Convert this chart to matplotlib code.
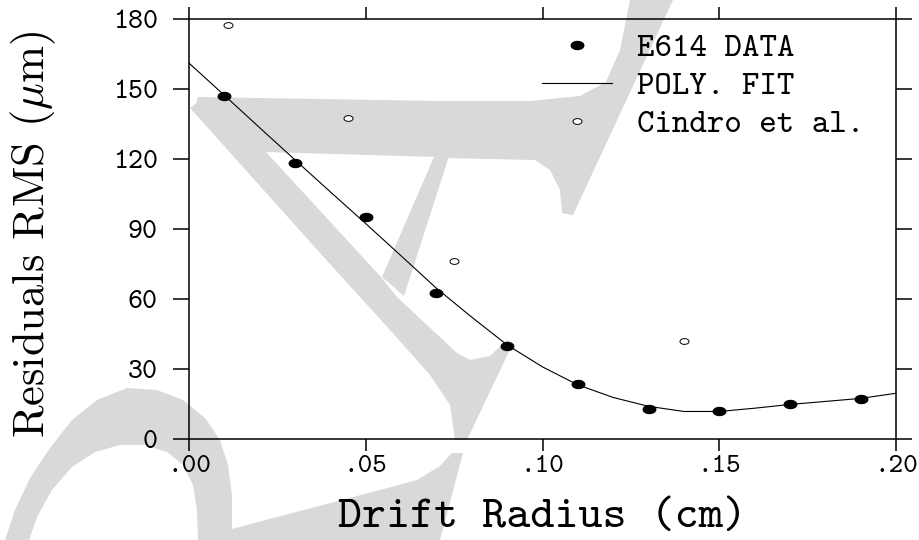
import numpy as np
import matplotlib
matplotlib.use("Agg")
import matplotlib.pyplot as plt
from matplotlib.path import Path
from matplotlib.patches import Polygon
from matplotlib.lines import Line2D

# E614 residuals vs drift radius
e614_radius = [0.01, 0.03, 0.05, 0.07, 0.09, 0.11, 0.13, 0.15, 0.17, 0.19]
e614_rms = [147.0, 118.1, 95.3, 62.4, 40.0, 23.4, 12.9, 12.0, 14.9, 17.1]

# Cindro et al. points
cindro_radius = [0.011, 0.045, 0.075, 0.140]
cindro_rms = [177.4, 137.4, 76.3, 42.1]

# polynomial fit curve, sampled every 0.01 cm
fit_radius = [0.00, 0.01, 0.02, 0.03, 0.04, 0.05, 0.06, 0.07, 0.08, 0.09, 0.10,
              0.11, 0.12, 0.13, 0.14, 0.15, 0.16, 0.17, 0.18, 0.19, 0.20]
fit_rms = [161.1, 147.3, 133.4, 119.6, 105.9, 92.3, 78.5, 64.6, 52.2, 40.3, 30.9,
           23.2, 17.8, 14.0, 11.8, 11.8, 13.2, 14.8, 16.1, 17.4, 19.6]

x_ticks = [0.00, 0.05, 0.10, 0.15, 0.20]
x_tick_labels = [".00", ".05", ".10", ".15", ".20"]
y_ticks = [0, 30, 60, 90, 120, 150, 180]
y_tick_labels = ["0", "30", "60", "90", "120", "150", "180"]

W, H = 919, 540

# grey draft watermark, outlined in pixel coordinates (origin top-left)
watermark_strokes = [
    [(198, 97), (440, 101), (530, 101), (580, 96), (606, 82), (620, 50), (630, 0),
     (673, 0), (573, 215), (562, 213), (560, 190), (550, 170), (535, 160),
     (445, 158), (437, 157), (266, 152), (195, 108)],
    [(437, 150), (451, 150), (404, 296), (382, 277)],
    [(205, 97), (266, 152), (381, 277), (397, 297), (457, 353), (470, 360),
     (490, 356), (507, 340), (513, 343), (467, 440), (455, 440), (450, 405),
     (430, 375), (390, 330), (320, 253), (234, 157), (190, 108)],
    [(452, 453), (463, 453), (440, 540), (225, 540), (228, 530), (300, 511),
     (380, 490), (417, 480), (440, 466)],
    [(5, 540), (15, 510), (30, 478), (50, 448), (72, 420), (97, 400), (127, 388),
     (157, 390), (183, 400), (205, 418), (220, 440), (228, 465), (232, 495),
     (232, 540), (198, 540), (197, 510), (193, 485), (183, 465), (167, 452),
     (145, 445), (120, 445), (95, 452), (72, 467), (52, 490), (38, 515), (29, 540)],
]

plt.rcParams["mathtext.fontset"] = "cm"
tt = "cmtt10"

fig = plt.figure(figsize=(W / 100, H / 100), dpi=100)
for pts in watermark_strokes:
    xy = [(px / W, 1 - py / H) for px, py in pts]
    fig.add_artist(Polygon(xy, closed=True, transform=fig.transFigure,
                           facecolor="#d9d9d9", edgecolor="none", zorder=-5))

ax = fig.add_axes([189 / W, 1 - 439 / H, 707 / W, 420 / H])
ax.set_facecolor("none")

# slightly flattened dot used for both data sets
t = np.linspace(0, 2 * np.pi, 41)
dot = Path(np.column_stack([np.cos(t), 0.64 * np.sin(t)]), closed=True)

ax.plot(fit_radius, fit_rms, color="black", lw=0.8, zorder=2)
ax.plot(e614_radius, e614_rms, ls="none", marker=dot, ms=9,
        mfc="black", mec="black", zorder=3)
ax.plot(cindro_radius, cindro_rms, ls="none", marker=dot, ms=6.5,
        mfc="white", mec="black", mew=0.7, zorder=3)

ax.set_xlim(0, 0.20)
ax.set_ylim(0, 180)
ax.set_xticks(x_ticks)
ax.set_xticklabels(x_tick_labels, family=tt, fontsize=20)
ax.set_yticks(y_ticks)
ax.set_yticklabels(y_tick_labels, family=tt, fontsize=20.5)

ax.tick_params(axis="x", which="both", direction="out", length=8.5, width=1.1,
               top=True, bottom=True, pad=3)
ax.tick_params(axis="y", which="both", direction="out", length=11.5, width=1.1,
               left=True, right=True, pad=11)
for sp in ax.spines.values():
    sp.set_linewidth(1.1)

ax.set_xlabel("Drift Radius (cm)", family=tt, fontsize=33)
ax.xaxis.set_label_coords(0.5, -0.143)
ax.set_ylabel(r"Residuals RMS ($\mu$m)", family="cmr10", fontsize=32)
ax.yaxis.set_label_coords(-0.185, 0.488)

handles = [
    Line2D([], [], ls="none", marker=dot, ms=9, mfc="black", mec="black"),
    Line2D([], [], color="black", lw=0.8),
    Line2D([], [], ls="none", marker=dot, ms=6.5, mfc="white", mec="black", mew=0.7),
]
ax.legend(handles, ["E614 DATA", "POLY. FIT", "Cindro et al."],
          loc="upper left", bbox_to_anchor=(0.499, 0.967), frameon=False,
          prop={"family": tt, "size": 24}, handlelength=2.1, handletextpad=0.75,
          borderpad=0, borderaxespad=0, labelspacing=0.2)

fig.savefig("out.png", dpi=100)
